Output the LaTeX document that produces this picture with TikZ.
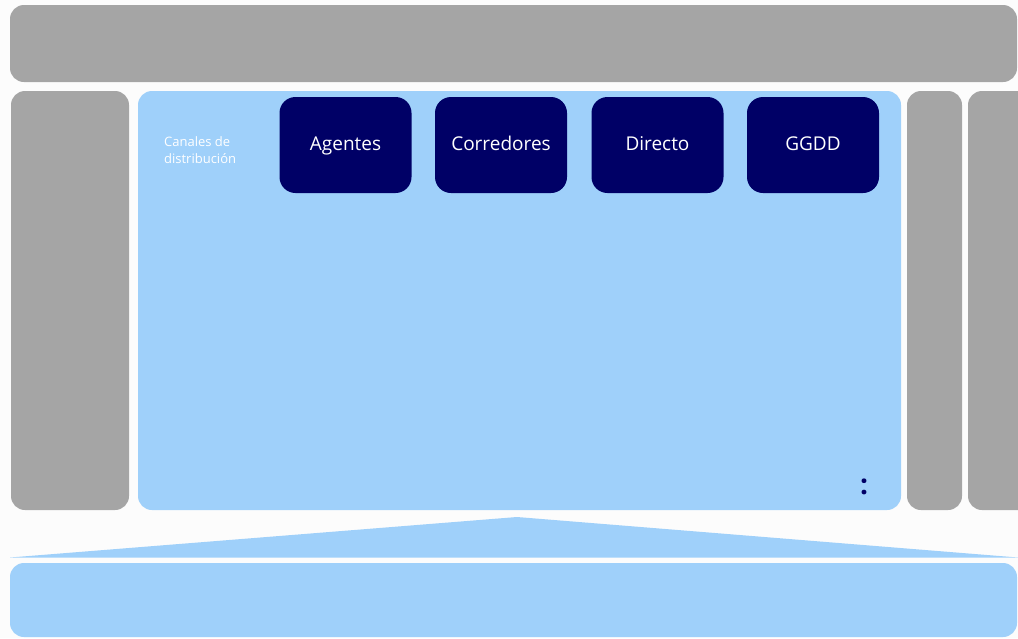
\documentclass[tikz,border=0pt]{standalone}
\usepackage{fontspec}
\setmainfont{Open Sans}
\definecolor{bggray}{HTML}{A5A5A5}
\definecolor{lblue}{HTML}{9FD0FA}
\definecolor{navy}{HTML}{000066}
\definecolor{paper}{HTML}{FCFCFC}
\begin{document}
\begin{tikzpicture}[x=1pt,y=-1pt,
  graybox/.style={fill=bggray,draw=none,rounded corners=14pt},
  bluebox/.style={fill=lblue,draw=none,rounded corners=14pt},
  channel/.style={fill=navy,draw=none,rounded corners=16pt,minimum width=132pt,minimum height=96pt,
    text=white,font=\fontsize{19}{22}\selectfont,inner sep=0pt,text height=14pt,text depth=4pt},
  caption/.style={text=white,font=\fontsize{13}{17.5}\selectfont,align=left,inner sep=0pt,anchor=west}]
\fill[paper] (0,0) rectangle (1018,638);
\useasboundingbox (0,0) rectangle (1018,638);
% top bar
\fill[graybox] (10,5) rectangle (1017,82);
% left column
\fill[graybox] (11,91) rectangle (129,510);
% right columns
\fill[graybox] (907,91) rectangle (962,510);
\fill[graybox] (968,91) rectangle (1035,510);
% main panel
\fill[bluebox] (138,91) rectangle (901,510);
% triangle
\fill[lblue] (10,557.5) -- (517,517) -- (1018,557.5) -- cycle;
% bottom bar
\fill[bluebox] (10,563) rectangle (1017,637);
% channels
\node[channel] (agentes) at (345.5,145) {Agentes};
\node[channel] (corredores) at (501,145) {Corredores};
\node[channel] (directo) at (657.5,145) {Directo};
\node[channel] (ggdd) at (813,145) {GGDD};
\node[caption] (canales) at (164,150) {Canales de\\distribución};
\node[text=navy,font=\fontsize{28}{28}\selectfont\bfseries,inner sep=0pt] (dots) at (864,487) {:};
\end{tikzpicture}
\end{document}
